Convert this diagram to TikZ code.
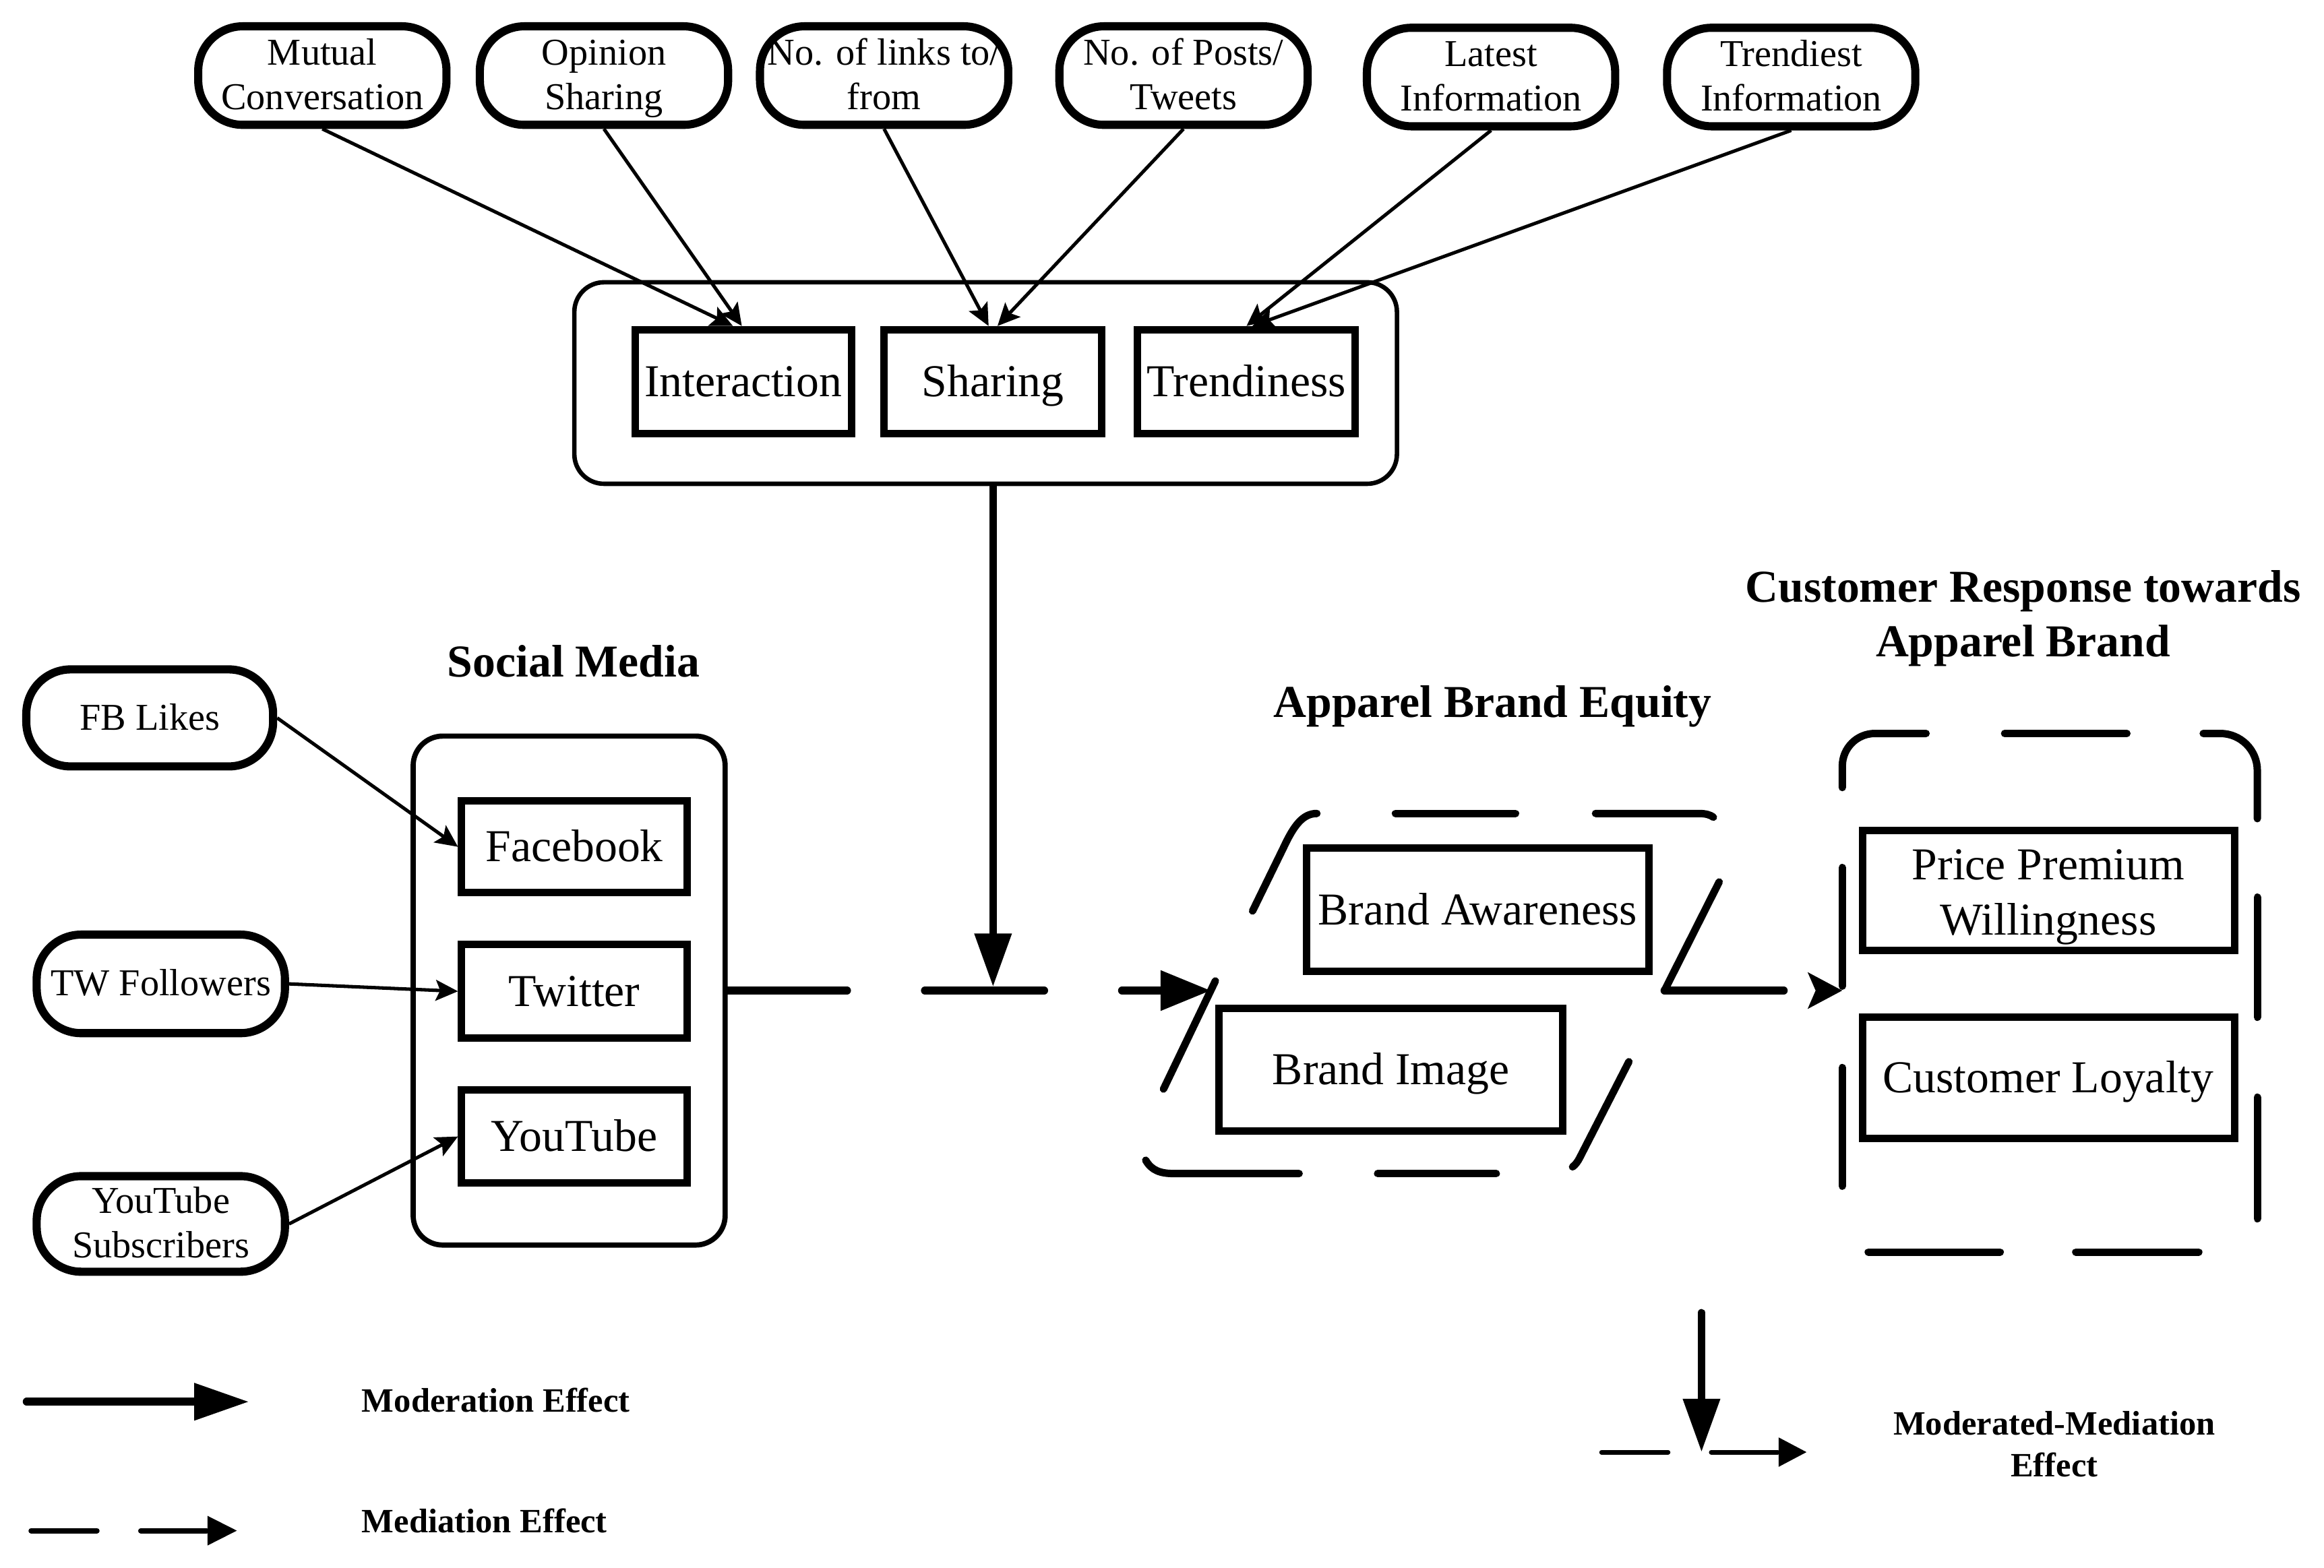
\documentclass[tikz,border=0pt]{standalone}
\usepackage{fontspec}
\setmainfont{Liberation Serif}
\usetikzlibrary{arrows.meta,calc}
\newcommand\bxstrut{\rule[-7pt]{0pt}{34pt}}
\newcommand\ovstrut{\rule[-6pt]{0pt}{28pt}}
\newcommand\lgstrut{\rule[-5pt]{0pt}{26.2pt}}
\newcommand\ovtop{\rule{0pt}{21.5pt}}
\newcommand\ovbot{\rule[-6pt]{0pt}{0pt}}
\newcommand\bxtop{\rule{0pt}{29.5pt}}
\newcommand\bxbot{\rule[-7pt]{0pt}{0pt}}
\tikzset{
  oval/.style={draw, line width=5.5pt, rounded corners=30pt, minimum width=167.5pt, minimum height=66.5pt, inner sep=0pt, align=center, font=\fontsize{25.6pt}{30pt}\selectfont, execute at begin node=\ovstrut, execute at end node=\ovstrut},
  ibox/.style={draw, line width=5pt, inner sep=0pt, align=center, font=\fontsize{30.8pt}{37pt}\selectfont, execute at begin node=\bxstrut, execute at end node=\bxstrut},
  cont/.style={draw, line width=3pt, rounded corners=20pt, inner sep=0pt},
  ttl/.style={font=\fontsize{30.8pt}{37pt}\selectfont\bfseries, align=center, inner sep=0pt, execute at begin node=\bxstrut, execute at end node=\bxstrut},
  legtxt/.style={font=\fontsize{23pt}{28pt}\selectfont\bfseries, align=center, inner sep=0pt, execute at begin node=\lgstrut, execute at end node=\lgstrut},
  thinarrow/.style={line width=2.3pt, -{Stealth[length=15pt, width=14pt, inset=3pt]}},
  modarrow/.style={line width=5.2pt, line cap=round, -{Triangle[length=36pt, width=24pt]}},
  medline/.style={line width=5.3pt, line cap=round, dash pattern=on 80.5pt off 52.5pt},
  dashseg/.style={line width=5pt, line cap=round},
}
\begin{document}
\begin{tikzpicture}[x=1pt, y=-1pt]
\useasboundingbox (0,0) rectangle (1568,1058);

% top indicator ovals
\node[oval] (mc) at (217.5,51) {\ovtop Mutual\\Conversation\ovbot};
\node[oval] (os) at (407.5,51) {\ovtop Opinion\\Sharing\ovbot};
\node[oval] (nl) at (596.5,51) {\ovtop No. of links to/\\from\ovbot};
\node[oval] (np) at (798.5,51) {\ovtop No. of Posts/\\Tweets\ovbot};
\node[oval] (li) at (1006,52) {\ovtop Latest\\Information\ovbot};
\node[oval] (ti) at (1208.5,52) {\ovtop Trendiest\\Information\ovbot};

% moderator container
\node[cont, minimum width=555pt, minimum height=136pt] (modbox) at (665,258.5) {};
\node[ibox, minimum width=146pt, minimum height=70pt] (inter) at (501.5,257.5) {Interaction};
\node[ibox, minimum width=147pt, minimum height=70pt] (shar) at (670,257.5) {Sharing};
\node[ibox, minimum width=147pt, minimum height=70pt] (trend) at (841,257.5) {Trendiness};

\draw[thinarrow] (mc.south) -- ([xshift=-7pt]inter.north);
\draw[thinarrow] (os.south) -- ([xshift=-1pt]inter.north);
\draw[thinarrow] (nl.south) -- ([xshift=-3pt]shar.north);
\draw[thinarrow] (np.south) -- ([xshift=3pt]shar.north);
\draw[thinarrow] (li.south) -- ([xshift=0pt]trend.north);
\draw[thinarrow] (ti.south) -- ([xshift=4pt]trend.north);

% social media
\node[ttl] (smt) at (387,447) {Social Media};
\node[cont, line width=3.5pt, minimum width=210.5pt, minimum height=343.5pt] (smbox) at (384,668.5) {};
\node[ibox, minimum width=152pt, minimum height=62pt] (fb) at (387.5,571.5) {Facebook};
\node[ibox, minimum width=152pt, minimum height=63pt] (tw) at (387.5,669) {Twitter};
\node[ibox, minimum width=152pt, minimum height=63pt] (yt) at (387.5,767) {YouTube};

\node[oval, minimum width=166.5pt, minimum height=65.5pt] (fbl) at (101,484.5) {FB Likes};
\node[oval] (twf) at (108.5,664) {TW Followers};
\node[oval, minimum height=64.5pt] (yts) at (108.5,826) {\ovtop YouTube\\Subscribers\ovbot};

\draw[thinarrow] (fbl.east) -- (fb.west);
\draw[thinarrow] (twf.east) -- (tw.west);
\draw[thinarrow] (yts.east) -- (yt.west);

% apparel brand equity (dashed parallelogram)
\node[ttl] (abet) at (1007,474) {Apparel Brand Equity};
\coordinate (pl) at (817,668.5);
\coordinate (pr) at (1123,668.5);
\draw[dashseg] (845.1,614.8) -- (866,572) .. controls (873,557) and (879,549) .. (888.5,549);
\draw[dashseg] (941.5,549) -- (1022.5,549);
\draw[dashseg] (1076.5,549) -- (1146,549) .. controls (1151,549) and (1154,550) .. (1156,551.5);
\draw[dashseg] (1159.9,595.2) -- (pr);
\draw[dashseg] (1099,716.5) -- (1066,781) .. controls (1064.5,784) and (1063,786) .. (1061,787.5);
\draw[dashseg] (929.5,792) -- (1009.5,792);
\draw[dashseg] (773,783) .. controls (777,790) and (783,792) .. (792,792) -- (876.5,792);
\draw[dashseg] (820,662) -- (785,735);
\node[ibox, minimum width=231pt, minimum height=83pt] (ba) at (997,614) {Brand Awareness};
\node[ibox, minimum width=232pt, minimum height=83pt] (bi) at (938.5,722) {Brand Image};

% customer response (dashed rounded box)
\node[ttl] (crt) at (1365,417.5) {Customer Response towards\\Apparel Brand};
\coordinate (crw) at (1243,668.5);
\draw[dashseg, rounded corners=22pt] (1243,531.5) -- (1243,495) -- (1299.5,495);
\draw[dashseg] (1352.5,495) -- (1435,495);
\draw[dashseg, rounded corners=25pt] (1486.5,495) -- (1523,495) -- (1523,552.5);
\draw[dashseg] (1523,605.5) -- (1523,686.5);
\draw[dashseg] (1523,740.5) -- (1523,822.5);
\draw[dashseg] (1260.5,845) -- (1349.5,845);
\draw[dashseg] (1400.5,845) -- (1483.5,845);
\draw[dashseg] (1243,585.5) -- (1243,665.5);
\draw[dashseg] (1243,720.5) -- (1243,800.5);
\node[ibox, minimum width=251pt, minimum height=81pt] (ppw) at (1382,601) {\bxtop Price Premium\\Willingness\bxbot};
\node[ibox, minimum width=251pt, minimum height=82pt] (cl) at (1382,727.5) {Customer Loyalty};

% mediation and moderation paths
\draw[medline, -{Triangle[length=34pt, width=26pt]}] (smbox.east) -- (pl);
\draw[medline, -{Stealth[length=23pt, width=24pt, inset=5pt]}] (pr) -- (crw);
\coordinate (mm) at (670,666);
\draw[modarrow] (modbox.south -| mm) -- (mm);

% legend
\coordinate (l1a) at (18,946);
\coordinate (l1b) at (168,946);
\draw[line width=5.3pt, line cap=round, -{Triangle[length=37pt, width=24pt]}] (l1a) -- (l1b);
\node[legtxt, anchor=west] (l1t) at (244,945) {Moderation Effect};

\coordinate (l2a) at (21,1033);
\coordinate (l2b) at (160,1033);
\draw[line width=3.6pt, line cap=round, dash pattern=on 44.4pt off 29.6pt, -{Triangle[length=20pt, width=19pt]}] (l2a) -- (l2b);
\node[legtxt, anchor=west] (l2t) at (244,1026) {Mediation Effect};

\coordinate (l3t) at (1148,886);
\coordinate (l3a) at (1080.6,980);
\coordinate (l3b) at (1219,980);
\draw[line width=3.2pt, line cap=round, dash pattern=on 44.8pt off 29.2pt, -{Triangle[length=19pt, width=19pt]}] (l3a) -- (l3b);
\draw[modarrow] (l3t) -- (l3t |- l3a);
\node[legtxt] (l3x) at (1386,977) {Moderated-Mediation\\Effect};
\end{tikzpicture}
\end{document}
